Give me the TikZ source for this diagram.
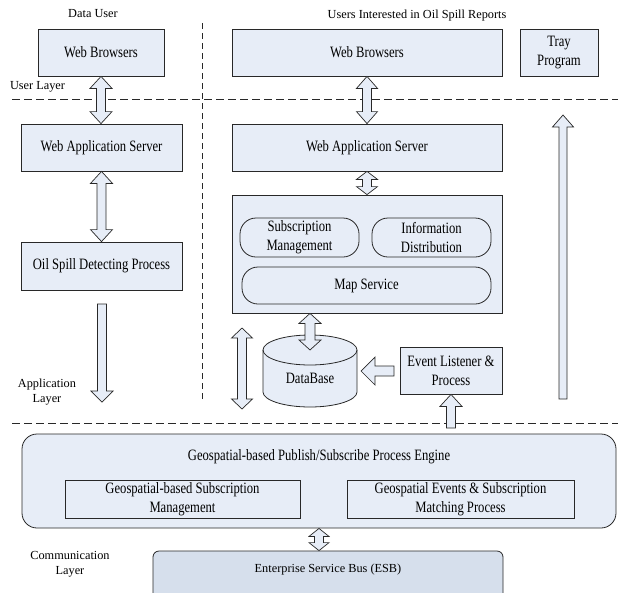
\documentclass[tikz,border=0pt]{standalone}
\usepackage{fontspec}
\setmainfont{Liberation Serif}
\newfontfamily\boxfont{Liberation Serif}[FakeStretch=0.8]
\usetikzlibrary{calc}
\definecolor{boxfill}{RGB}{231,237,247}
\definecolor{esbfill}{RGB}{214,223,236}
\definecolor{edge}{RGB}{40,40,40}
\tikzset{
  box/.style={draw=edge, line width=0.8pt, fill=boxfill, inner sep=0pt, align=center,
    font=\boxfont\fontsize{15.8}{19}\selectfont},
  pill/.style={box, rounded corners=16pt},
  lbl/.style={inner sep=0pt, align=center, font=\fontsize{12.3}{14.5}\selectfont},
  blk/.style={draw=edge, line width=0.7pt, fill=boxfill, line join=miter},
  hsep/.style={draw=edge, line width=0.8pt, dash pattern=on 8pt off 4pt},
  vsep/.style={draw=edge, line width=0.8pt, dash pattern=on 6pt off 4pt},
}
% vertical double arrow: #1 top, #2 bottom, #3 shaft half width, #4 head half width, #5 head length
\newcommand{\vdbl}[5]{%
  \draw[blk] (#1) -- ($(#1)+(#4,#5)$) -- ($(#1)+(#3,#5)$) -- ($(#2)+(#3,-#5)$) -- ($(#2)+(#4,-#5)$)
    -- (#2) -- ($(#2)+(-#4,-#5)$) -- ($(#2)+(-#3,-#5)$) -- ($(#1)+(-#3,#5)$) -- ($(#1)+(-#4,#5)$) -- cycle;}
% vertical single arrow pointing down: #1 tail, #2 tip
\newcommand{\vdown}[5]{%
  \draw[blk] ($(#1)+(-#3,0)$) -- ($(#1)+(#3,0)$) -- ($(#2)+(#3,-#5)$) -- ($(#2)+(#4,-#5)$)
    -- (#2) -- ($(#2)+(-#4,-#5)$) -- ($(#2)+(-#3,-#5)$) -- cycle;}
% vertical single arrow pointing up: #1 tail, #2 tip
\newcommand{\vup}[5]{%
  \draw[blk] ($(#1)+(-#3,0)$) -- ($(#1)+(#3,0)$) -- ($(#2)+(#3,#5)$) -- ($(#2)+(#4,#5)$)
    -- (#2) -- ($(#2)+(-#4,#5)$) -- ($(#2)+(-#3,#5)$) -- cycle;}
\begin{document}
\begin{tikzpicture}[x=1pt,y=-1pt]
\useasboundingbox (0,0) rectangle (618,592);

% separators
\coordinate (s1l) at (12,99.5);  \coordinate (s1r) at (618,99.5);
\coordinate (s2l) at (12,423);   \coordinate (s2r) at (618,423);
\coordinate (vt) at (202,23);    \coordinate (vb) at (202,401);
\draw[hsep] (s1l) -- (s1r);
\draw[hsep] (s2l) -- (s2r);
\draw[vsep] (vt) -- (vb);

% labels
\node[lbl] (dataUser) at (93,14) {Data User};
\node[lbl] (usersInt) at (417,16) {Users Interested in Oil Spill Reports};
\node[lbl] (userLayer) at (37.5,87) {User Layer};
\node[lbl] (appLayer) at (47,392) {Application\\Layer};
\node[lbl] (commLayer) at (70,564) {Communication\\Layer};

% left column
\node[box, minimum width=126pt, minimum height=47pt] (lwb) at (101,52.5) {Web Browsers};
\node[box, minimum width=161pt, minimum height=47pt] (lwas) at (101.5,147.5) {Web Application Server};
\node[box, minimum width=161pt, minimum height=48pt] (loil) at (101.5,266) {Oil Spill Detecting Process};

% right column
\node[box, minimum width=270pt, minimum height=47pt] (rwb) at (367,52.5) {Web Browsers};
\node[box, minimum width=78pt, minimum height=47pt] (tray) at (559,52.5) {Tray\\Program};
\node[box, minimum width=270pt, minimum height=47pt] (rwas) at (367,147.5) {Web Application Server};
\node[box, minimum width=270pt, minimum height=118pt] (cont) at (367,254) {};
\node[pill, minimum width=119pt, minimum height=39pt] (subm) at (299.5,237.5) {Subscription\\Management};
\node[pill, minimum width=119pt, minimum height=39pt] (infod) at (431.5,237.5) {Information\\Distribution};
\node[pill, minimum width=249pt, minimum height=37pt] (maps) at (366.5,285.5) {Map Service};
\node[box, minimum width=102pt, minimum height=47pt] (el) at (451,370.5) {Event Listener \&\\Process};

% database cylinder
\draw[draw=edge, line width=0.8pt, fill=boxfill] (263,350) -- (263,392)
  arc[start angle=180, end angle=0, x radius=47, y radius=15] -- (357,350)
  arc[start angle=0, end angle=-180, x radius=47, y radius=15] -- cycle;
\draw[draw=edge, line width=0.8pt] (263,350) arc[start angle=180, end angle=0, x radius=47, y radius=15];
\node[lbl, font=\boxfont\fontsize{15.8}{19}\selectfont] (db) at (310,378) {DataBase};

% bottom engine
\node[box, rounded corners=15pt, minimum width=594pt, minimum height=94pt] (eng) at (319,481) {};
\node[lbl, font=\boxfont\fontsize{15.8}{19}\selectfont] (engt) at (319,457) {Geospatial-based Publish/Subscribe Process Engine};
\node[box, minimum width=235pt, minimum height=38pt] (sub1) at (182.5,499) {Geospatial-based Subscription\\Management};
\node[box, minimum width=227pt, minimum height=38pt] (sub2) at (460.5,499) {Geospatial Events \& Subscription\\Matching Process};
\node[draw=edge, line width=0.8pt, fill=esbfill, rounded corners=6pt, inner sep=0pt,
      minimum width=350pt, minimum height=50pt] (esb) at (328,576) {};
\node[lbl] (esbt) at (328,570) {Enterprise Service Bus (ESB)};

% arrow coordinates
\coordinate (la1) at (102,304);  \coordinate (la2) at (102,402);
\coordinate (dbtop) at (310,350);
\coordinate (dl1) at (242,328);  \coordinate (dl2) at (242,409);
\coordinate (elw) at (394,371);  \coordinate (dbr) at (361,371);
\coordinate (eub) at (451,428);
\coordinate (tu1) at (563,399);  \coordinate (tu2) at (563,115);

% block arrows
\vdbl{lwb.south}{lwb.south |- lwas.north}{4.5}{11}{12}
\vdbl{lwas.south}{lwas.south |- loil.north}{4.5}{11}{12}
\vdown{la1}{la2}{4.5}{11}{11}
\vdbl{rwb.south}{rwb.south |- rwas.north}{4.5}{10.5}{12}
\vdbl{rwas.south}{rwas.south |- cont.north}{4.5}{10.5}{8}
\vdbl{dbtop |- cont.south}{dbtop}{5}{11}{10}
\vdbl{dl1}{dl2}{4.5}{10.5}{10}
\draw[blk] ($(elw)+(0,-5)$) -- ($(elw)+(0,5)$) -- ($(dbr)+(14,5)$) -- ($(dbr)+(14,14)$)
  -- (dbr) -- ($(dbr)+(14,-14)$) -- ($(dbr)+(14,-5)$) -- cycle;
\vup{eub}{el.south}{4.5}{11}{12}
\vup{tu1}{tu2}{4}{10.5}{12}
\vdbl{eng.south}{eng.south |- esb.north}{4.5}{10}{8}
\end{tikzpicture}
\end{document}
